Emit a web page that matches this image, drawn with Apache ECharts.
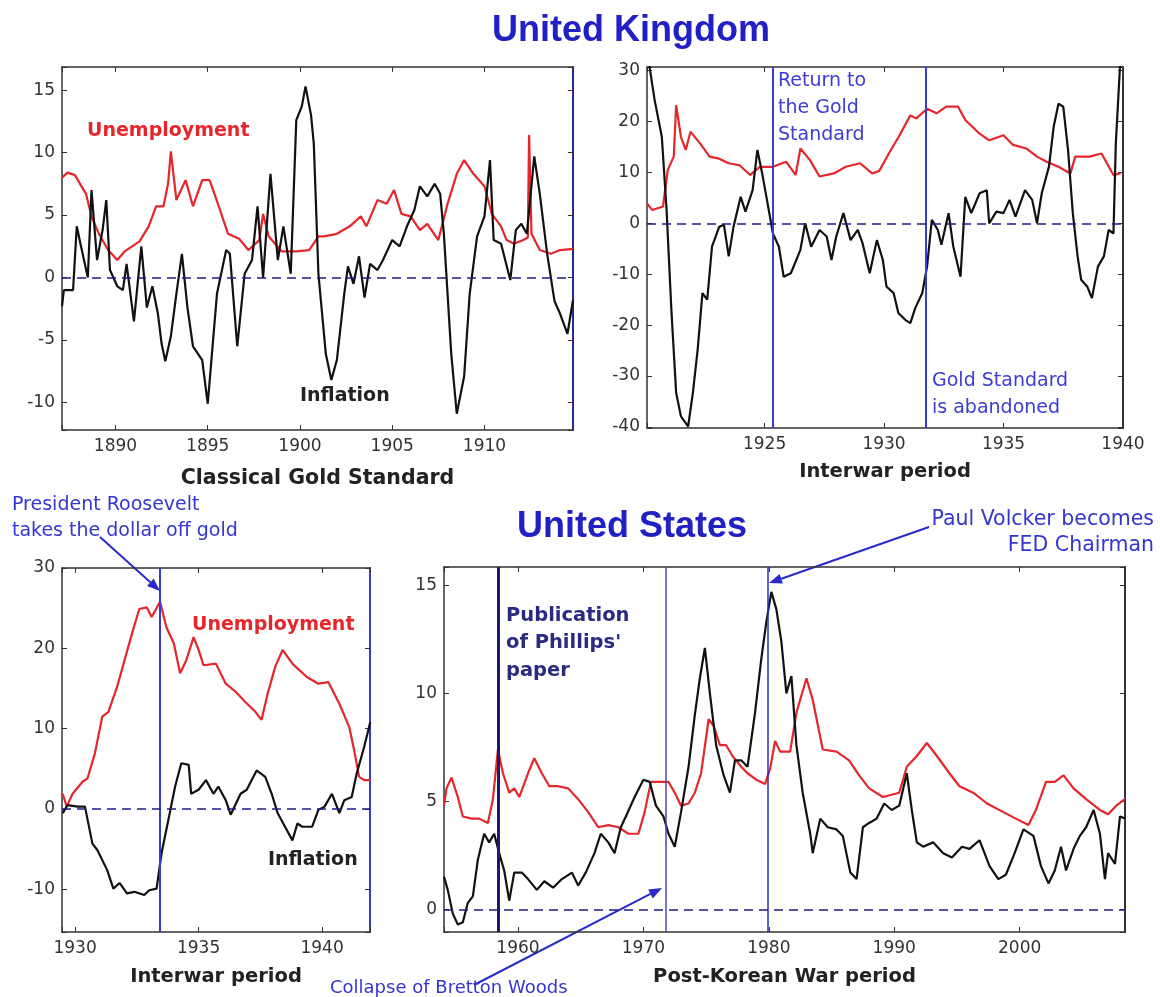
<!DOCTYPE html>
<html>
<head>
<meta charset="utf-8">
<script src="https://cdn.jsdelivr.net/npm/echarts@6/dist/echarts.min.js"></script>
<style>
html, body { margin: 0; padding: 0; background: #fff; }
#chart { width: 1160px; height: 997px; }
</style>
</head>
<body>
<div id="chart"></div>
<script>
// UK, classical gold standard
const ukGoldUnempYears = [1887.1, 1887.4, 1887.8, 1888.4, 1888.7, 1889.1, 1889.6, 1890.1, 1890.5, 1891.3, 1891.8, 1892.2, 1892.6, 1892.85, 1893.0, 1893.3, 1893.8, 1894.2, 1894.7, 1895.1, 1895.6, 1896.1, 1896.7, 1897.2, 1897.8, 1898.0, 1898.3, 1899.0, 1899.8, 1900.5, 1901.0, 1901.3, 1902.0, 1902.7, 1903.3, 1903.6, 1904.2, 1904.7, 1905.1, 1905.5, 1906.0, 1906.5, 1906.9, 1907.5, 1908.0, 1908.5, 1908.9, 1909.4, 1910.0, 1910.4, 1910.9, 1911.2, 1911.6, 1912.1, 1912.35, 1912.42, 1912.55, 1913.0, 1913.6, 1914.1, 1914.8];
const ukGoldUnemp = [8.0, 8.4, 8.2, 6.7, 4.9, 3.5, 2.2, 1.4, 2.1, 2.9, 4.1, 5.7, 5.7, 7.5, 10.1, 6.2, 7.8, 5.7, 7.8, 7.8, 5.7, 3.5, 3.1, 2.2, 3.0, 5.1, 3.3, 2.1, 2.1, 2.2, 3.3, 3.3, 3.5, 4.1, 4.9, 4.1, 6.2, 5.9, 7.0, 5.1, 4.9, 3.8, 4.3, 3.0, 5.9, 8.3, 9.4, 8.3, 7.3, 5.1, 4.1, 3.0, 2.7, 3.0, 3.2, 11.4, 3.5, 2.2, 1.9, 2.2, 2.3];
const ukGoldInflYears = [1887.1, 1887.2, 1887.7, 1887.9, 1888.1, 1888.5, 1888.7, 1889.0, 1889.3, 1889.5, 1889.7, 1890.1, 1890.4, 1890.6, 1891.0, 1891.4, 1891.7, 1892.0, 1892.3, 1892.5, 1892.7, 1893.0, 1893.3, 1893.6, 1893.9, 1894.2, 1894.7, 1895.0, 1895.2, 1895.5, 1896.0, 1896.2, 1896.6, 1897.0, 1897.4, 1897.7, 1898.0, 1898.4, 1898.8, 1899.1, 1899.5, 1899.8, 1900.1, 1900.3, 1900.6, 1900.75, 1901.0, 1901.4, 1901.7, 1902.0, 1902.4, 1902.6, 1902.9, 1903.2, 1903.5, 1903.8, 1904.2, 1904.5, 1905.0, 1905.4, 1905.8, 1906.2, 1906.5, 1906.9, 1907.3, 1907.6, 1907.8, 1908.2, 1908.5, 1908.9, 1909.2, 1909.6, 1910.0, 1910.3, 1910.5, 1910.9, 1911.4, 1911.7, 1912.0, 1912.3, 1912.7, 1913.0, 1913.4, 1913.8, 1914.1, 1914.5, 1914.8];
const ukGoldInfl = [-2.3, -1.0, -1.0, 4.1, 2.7, 0, 7.0, 1.4, 3.8, 6.2, 0.6, -0.7, -1.0, 1.1, -3.5, 2.5, -2.4, -0.7, -2.9, -5.3, -6.7, -4.7, -1.3, 1.9, -2.4, -5.5, -6.6, -10.1, -6.6, -1.3, 2.2, 1.9, -5.5, 0.3, 1.4, 5.7, 0, 8.3, 1.4, 4.1, 0.3, 12.6, 13.7, 15.3, 13.0, 10.7, 0.3, -6.1, -8.2, -6.6, -1.3, 0.9, -0.5, 1.7, -1.6, 1.1, 0.6, 1.4, 3.0, 2.5, 4.1, 5.4, 7.3, 6.5, 7.5, 6.7, 3.5, -6.1, -10.9, -7.9, -1.3, 3.3, 4.9, 9.4, 3.0, 2.7, -0.2, 3.8, 4.3, 3.5, 9.7, 6.7, 1.9, -1.9, -2.9, -4.5, -1.8];

// UK, interwar period
const ukWarUnempYears = [1920.08, 1920.3, 1920.75, 1920.95, 1921.2, 1921.3, 1921.5, 1921.7, 1921.9, 1922.3, 1922.7, 1923.1, 1923.5, 1923.95, 1924.4, 1924.8, 1925.35, 1925.9, 1926.3, 1926.5, 1926.9, 1927.3, 1927.9, 1928.4, 1929.0, 1929.5, 1929.8, 1930.2, 1930.65, 1931.1, 1931.35, 1931.8, 1932.2, 1932.6, 1933.1, 1933.4, 1934.0, 1934.4, 1935.0, 1935.4, 1935.95, 1936.4, 1936.8, 1937.3, 1937.8, 1938.0, 1938.6, 1939.1, 1939.6, 1939.9];
const ukWarUnemp = [3.9, 2.6, 3.3, 10.5, 13.1, 23.2, 17.0, 14.4, 18.0, 15.7, 13.1, 12.7, 11.8, 11.4, 9.5, 11.1, 11.1, 12.1, 9.5, 14.7, 12.4, 9.2, 9.8, 11.1, 11.8, 9.8, 10.3, 13.7, 17.3, 21.2, 20.6, 22.5, 21.6, 22.9, 22.9, 20.3, 17.6, 16.3, 17.3, 15.4, 14.7, 13.1, 12.1, 11.1, 9.8, 13.1, 13.1, 13.7, 9.5, 9.8];
const ukWarInflYears = [1920.08, 1920.4, 1920.7, 1920.9, 1921.1, 1921.3, 1921.5, 1921.8, 1922.0, 1922.2, 1922.4, 1922.6, 1922.8, 1923.1, 1923.3, 1923.5, 1923.7, 1924.0, 1924.2, 1924.5, 1924.7, 1924.9, 1925.1, 1925.35, 1925.6, 1925.8, 1926.1, 1926.5, 1926.7, 1926.95, 1927.3, 1927.6, 1927.8, 1928.0, 1928.3, 1928.6, 1928.9, 1929.1, 1929.4, 1929.7, 1929.95, 1930.1, 1930.4, 1930.6, 1930.9, 1931.1, 1931.3, 1931.6, 1931.8, 1932.0, 1932.25, 1932.4, 1932.7, 1932.9, 1933.2, 1933.4, 1933.65, 1934.0, 1934.3, 1934.4, 1934.7, 1935.0, 1935.25, 1935.5, 1935.9, 1936.2, 1936.4, 1936.6, 1936.9, 1937.1, 1937.3, 1937.5, 1937.7, 1937.9, 1938.1, 1938.25, 1938.5, 1938.7, 1938.95, 1939.2, 1939.4, 1939.6, 1939.7, 1939.9];
const ukWarInfl = [34, 24.2, 17.0, 2.6, -17.0, -33.3, -37.9, -39.9, -33.3, -24.8, -13.7, -15.0, -4.6, -0.7, -0.3, -6.5, -0.7, 5.2, 2.3, 6.5, 14.4, 9.8, 4.6, -2.0, -4.6, -10.5, -9.8, -5.2, 0, -4.6, -1.3, -2.6, -7.2, -2.6, 2.0, -3.3, -1.3, -3.9, -9.8, -3.3, -7.2, -12.4, -13.7, -17.6, -19.0, -19.6, -16.7, -13.7, -8.5, 0.7, -1.3, -4.2, 2.0, -4.6, -10.5, 5.2, 2.0, 5.9, 6.5, 0, 2.3, 2.0, 4.6, 1.3, 6.5, 4.6, 0, 5.9, 11.1, 19.0, 23.5, 22.9, 14.4, 2.0, -6.5, -11.1, -12.4, -14.7, -8.5, -6.5, -1.3, -2.0, 15.7, 33];

// US, interwar period
const usWarUnempYears = [1929.5, 1929.66, 1929.9, 1930.3, 1930.5, 1930.8, 1931.1, 1931.35, 1931.7, 1932.0, 1932.3, 1932.6, 1932.9, 1933.1, 1933.44, 1933.7, 1934.0, 1934.25, 1934.5, 1934.8, 1935.0, 1935.2, 1935.7, 1936.1, 1936.5, 1936.9, 1937.3, 1937.55, 1937.8, 1938.1, 1938.4, 1938.8, 1939.0, 1939.4, 1939.85, 1940.25, 1940.7, 1941.1, 1941.3, 1941.5, 1941.7, 1941.95];
const usWarUnemp = [1.9, 0.3, 1.9, 3.4, 3.8, 6.9, 11.5, 12.1, 15.2, 18.5, 21.8, 24.9, 25.1, 23.9, 25.8, 22.6, 20.6, 16.9, 18.5, 21.4, 19.8, 17.9, 18.1, 15.6, 14.6, 13.3, 12.1, 11.1, 14.4, 17.7, 19.8, 18.1, 17.5, 16.4, 15.6, 15.8, 13.1, 10.2, 7.3, 4.0, 3.6, 3.6];
const usWarInflYears = [1929.5, 1929.7, 1930.1, 1930.4, 1930.7, 1930.9, 1931.3, 1931.55, 1931.8, 1932.1, 1932.4, 1932.8, 1933.0, 1933.3, 1933.5, 1933.8, 1934.05, 1934.3, 1934.6, 1934.7, 1935.0, 1935.3, 1935.6, 1935.8, 1936.1, 1936.3, 1936.7, 1936.95, 1937.35, 1937.7, 1937.96, 1938.2, 1938.5, 1938.8, 1939.0, 1939.2, 1939.6, 1939.85, 1940.1, 1940.4, 1940.7, 1940.9, 1941.2, 1941.4, 1941.7, 1941.95];
const usWarInfl = [-0.5, 0.5, 0.3, 0.3, -4.3, -5.1, -7.6, -9.9, -9.2, -10.5, -10.3, -10.7, -10.1, -9.9, -5.5, -1.0, 2.8, 5.7, 5.5, 1.9, 2.4, 3.6, 1.9, 2.8, 1.1, -0.7, 1.9, 2.4, 4.8, 4.0, 1.9, -0.5, -2.2, -3.9, -1.8, -2.2, -2.2, -0.1, 0.3, 1.9, -0.5, 1.1, 1.5, 4.4, 7.7, 10.8];

// US, post-Korean war period
const usPostUnempYears = [1954.1, 1954.3, 1954.7, 1955.2, 1955.6, 1956.3, 1956.9, 1957.6, 1958.0, 1958.4, 1958.8, 1959.3, 1959.7, 1960.1, 1960.8, 1961.3, 1961.9, 1962.5, 1963.2, 1964.0, 1964.8, 1965.6, 1966.4, 1967.2, 1968.0, 1968.8, 1969.6, 1970.1, 1970.6, 1971.4, 1972.0, 1972.5, 1973.0, 1973.6, 1974.1, 1974.6, 1975.2, 1975.6, 1976.1, 1976.6, 1977.1, 1977.8, 1978.3, 1979.0, 1979.7, 1980.1, 1980.5, 1980.9, 1981.7, 1982.2, 1983.0, 1983.5, 1984.3, 1985.4, 1986.4, 1987.2, 1988.0, 1989.1, 1990.4, 1991.0, 1991.8, 1992.6, 1993.4, 1994.4, 1995.2, 1996.3, 1997.4, 1998.7, 1999.7, 2000.7, 2001.3, 2002.1, 2002.8, 2003.5, 2004.3, 2005.3, 2006.4, 2007.05, 2007.7, 2008.4];
const usPostUnemp = [4.8, 5.6, 6.1, 5.2, 4.3, 4.2, 4.2, 4.0, 5.1, 7.4, 6.3, 5.4, 5.6, 5.2, 6.3, 7.0, 6.3, 5.7, 5.7, 5.6, 5.1, 4.5, 3.8, 3.9, 3.8, 3.5, 3.5, 4.5, 5.9, 5.9, 5.9, 5.4, 4.8, 4.9, 5.4, 6.3, 8.8, 8.5, 7.6, 7.6, 7.1, 6.6, 6.3, 6.0, 5.8, 6.5, 7.8, 7.3, 7.3, 9.1, 10.7, 9.7, 7.4, 7.3, 6.9, 6.2, 5.6, 5.2, 5.4, 6.6, 7.1, 7.7, 7.1, 6.3, 5.7, 5.4, 4.9, 4.5, 4.2, 3.9, 4.6, 5.9, 5.9, 6.2, 5.6, 5.1, 4.6, 4.4, 4.8, 5.1];
const usPostInflYears = [1954.1, 1954.4, 1954.8, 1955.2, 1955.6, 1956.0, 1956.4, 1956.8, 1957.3, 1957.7, 1958.1, 1958.5, 1958.9, 1959.3, 1959.7, 1960.3, 1960.8, 1961.5, 1962.1, 1962.8, 1963.5, 1964.3, 1964.8, 1965.4, 1966.1, 1966.6, 1967.2, 1967.7, 1968.2, 1968.6, 1969.3, 1970.0, 1970.5, 1971.0, 1971.6, 1972.0, 1972.5, 1973.0, 1973.6, 1974.1, 1974.5, 1974.9, 1975.3, 1975.8, 1976.4, 1976.9, 1977.3, 1977.8, 1978.3, 1978.9, 1979.4, 1979.8, 1980.2, 1980.6, 1981.0, 1981.4, 1981.8, 1982.2, 1982.7, 1983.3, 1983.5, 1984.1, 1984.7, 1985.4, 1985.9, 1986.5, 1987.0, 1987.5, 1988.0, 1988.6, 1989.2, 1989.8, 1990.4, 1991.0, 1991.4, 1991.8, 1992.3, 1993.1, 1993.9, 1994.6, 1995.4, 1996.0, 1996.8, 1997.6, 1998.3, 1998.9, 1999.6, 2000.3, 2001.1, 2001.7, 2002.3, 2002.8, 2003.3, 2003.7, 2004.3, 2004.8, 2005.3, 2005.9, 2006.4, 2006.8, 2007.05, 2007.6, 2008.0, 2008.4];
const usPostInfl = [1.5, 0.9, -0.2, -0.7, -0.6, 0.3, 0.6, 2.3, 3.5, 3.1, 3.5, 2.6, 1.8, 0.4, 1.7, 1.7, 1.4, 0.9, 1.3, 1.0, 1.4, 1.7, 1.1, 1.7, 2.6, 3.5, 3.1, 2.6, 3.8, 4.3, 5.2, 6.0, 5.9, 4.8, 4.3, 3.5, 2.9, 4.5, 6.6, 9.0, 10.7, 12.1, 10.0, 7.6, 6.2, 5.4, 6.9, 6.9, 6.6, 9.1, 11.6, 13.3, 14.7, 13.9, 12.4, 10.0, 10.8, 7.6, 5.4, 3.5, 2.6, 4.2, 3.8, 3.7, 3.4, 1.7, 1.4, 3.8, 4.0, 4.2, 4.9, 4.6, 4.8, 6.3, 4.6, 3.1, 2.9, 3.1, 2.6, 2.4, 2.9, 2.8, 3.2, 2.0, 1.4, 1.6, 2.6, 3.7, 3.4, 2.0, 1.2, 1.8, 2.9, 1.8, 2.8, 3.4, 3.8, 4.6, 3.5, 1.4, 2.6, 2.1, 4.3, 4.2];

// event lines (years)
const ukGoldReturn = 1925.35;
const ukGoldAbandon = 1931.75;
const usRoosevelt = 1933.44;
const usPhillips = 1958.4;
const usBretton = 1971.8;
const usVolcker = 1979.9;

const font = '"Liberation Sans", Arial, sans-serif';
const wide = '"DejaVu Sans", Verdana, sans-serif';
const red = '#e5262b';
const blue = '#2a2ad2';
const navy = '#1c1c86';

const zip = (xs, ys) => xs.map((x, i) => [x, ys[i]]);

const panels = [
    { grid: { left: 62, top: 67, width: 511, height: 363 }, x: [1887.1, 1914.8], y: [-12.2, 16.85], xStep: 5, yStep: 5, xSplit: 5, ySplit: 6, name: 'Classical Gold Standard', nameSize: 20.5, nameGap: 38, rightColor: '#28289a' },
    { grid: { left: 647, top: 67, width: 476, height: 361 }, x: [1920.08, 1940], y: [-40.2, 30.7], xStep: 5, yStep: 10, xSplit: 4, ySplit: 7, name: 'Interwar period', nameSize: 19.5, nameGap: 34, rightColor: '#333' },
    { grid: { left: 62, top: 568, width: 308, height: 364 }, x: [1929.47, 1941.94], y: [-15.3, 30], xStep: 5, yStep: 10, xSplit: 3, ySplit: 5, name: 'Interwar period', nameSize: 19.5, nameGap: 35, rightColor: '#3a3ad0' },
    { grid: { left: 444, top: 567, width: 681, height: 365 }, x: [1954.1, 2008.4], y: [-1.05, 15.85], xStep: 10, yStep: 5, xSplit: 5, ySplit: 3, name: 'Post-Korean War period', nameSize: 19.5, nameGap: 35, rightColor: '#333' }
];

const onStep = (v, step) => Math.abs(v / step - Math.round(v / step)) < 1e-6;

const xAxis = [];
const yAxis = [];
panels.forEach((p, i) => {
    const tick = { show: true, inside: true, length: 5, lineStyle: { color: '#333', width: 1 } };
    const common = { type: 'value', gridIndex: i, splitLine: { show: false } };
    xAxis.push({
        ...common, min: p.x[0], max: p.x[1], splitNumber: p.xSplit, minInterval: p.xStep, maxInterval: p.xStep,
        position: 'bottom',
        axisLine: { onZero: false, lineStyle: { color: '#333', width: 1.5 } },
        axisTick: tick,
        axisLabel: { color: '#333', fontSize: 17, fontFamily: wide, margin: 8, formatter: v => onStep(v, p.xStep) ? String(Math.round(v)) : '' },
        name: p.name, nameLocation: 'middle', nameGap: p.nameGap,
        nameTextStyle: { color: '#222', fontSize: p.nameSize, fontWeight: 'bold', fontFamily: wide }
    });
    yAxis.push({
        ...common, min: p.y[0], max: p.y[1], splitNumber: p.ySplit, minInterval: p.yStep, maxInterval: p.yStep,
        position: 'left',
        axisLine: { show: true, onZero: false, lineStyle: { color: '#333', width: 1.5 } },
        axisTick: tick,
        axisLabel: { color: '#333', fontSize: 17, fontFamily: wide, margin: 7, formatter: v => onStep(v, p.yStep) ? String(Math.round(v)) : '' }
    });
});
panels.forEach((p, i) => {
    const tick = { show: true, inside: true, length: 5, lineStyle: { color: '#333', width: 1 } };
    xAxis.push({
        type: 'value', gridIndex: i, min: p.x[0], max: p.x[1], splitNumber: p.xSplit, minInterval: p.xStep, maxInterval: p.xStep,
        position: 'top', splitLine: { show: false },
        axisLine: { onZero: false, lineStyle: { color: '#333', width: 1.5 } },
        axisTick: tick, axisLabel: { show: false }
    });
    yAxis.push({
        type: 'value', gridIndex: i, min: p.y[0], max: p.y[1], splitNumber: p.ySplit, minInterval: p.yStep, maxInterval: p.yStep,
        position: 'right', splitLine: { show: false },
        axisLine: { show: true, onZero: false, lineStyle: { color: p.rightColor, width: 2 } },
        axisTick: tick, axisLabel: { show: false }
    });
});

const zeroLine = {
    silent: true, symbol: 'none', label: { show: false },
    lineStyle: { color: navy, type: [9, 6], width: 1.5 },
    data: [{ yAxis: 0 }]
};
const vLines = items => ({
    silent: true, symbol: 'none', label: { show: false },
    data: items.map(([x, color, width]) => ({ xAxis: x, lineStyle: { color, width, type: 'solid' } }))
});

const lineSeries = (i, data, color, extra) => ({
    type: 'line', xAxisIndex: i, yAxisIndex: i, data, showSymbol: false, symbol: 'none',
    lineStyle: { color, width: 2.2 }, itemStyle: { color }, animation: false, clip: true, ...extra
});

const series = [
    lineSeries(0, zip(ukGoldUnempYears, ukGoldUnemp), red),
    lineSeries(0, zip(ukGoldInflYears, ukGoldInfl), '#111', { markLine: zeroLine }),
    lineSeries(1, zip(ukWarUnempYears, ukWarUnemp), red, { markLine: vLines([[ukGoldReturn, '#3a3ad4', 2], [ukGoldAbandon, '#3a3ad4', 2]]) }),
    lineSeries(1, zip(ukWarInflYears, ukWarInfl), '#111', { markLine: zeroLine }),
    lineSeries(2, zip(usWarUnempYears, usWarUnemp), red, { markLine: vLines([[usRoosevelt, '#3a3ad0', 2]]) }),
    lineSeries(2, zip(usWarInflYears, usWarInfl), '#111', { markLine: zeroLine }),
    lineSeries(3, zip(usPostUnempYears, usPostUnemp), red, { markLine: vLines([[usPhillips, '#1a1a6e', 3], [usBretton, '#4848b0', 1.5], [usVolcker, '#2b2bcc', 1.5]]) }),
    lineSeries(3, zip(usPostInflYears, usPostInfl), '#111', { markLine: zeroLine })
];

function text(str, x, y, opts) {
    return {
        type: 'text', x, y, silent: true, z: 100,
        style: Object.assign({ text: str, fill: blue, fontSize: 16, fontFamily: wide, align: 'left', verticalAlign: 'middle', lineHeight: 24 }, opts)
    };
}

function arrow(x1, y1, x2, y2, color) {
    const ang = Math.atan2(y2 - y1, x2 - x1);
    const len = 13, half = 5;
    const bx = x2 - len * Math.cos(ang), by = y2 - len * Math.sin(ang);
    const px = -Math.sin(ang) * half, py = Math.cos(ang) * half;
    return {
        type: 'group', silent: true, z: 100,
        children: [
            { type: 'line', shape: { x1, y1, x2: bx, y2: by }, style: { stroke: color, lineWidth: 2 } },
            { type: 'polygon', shape: { points: [[x2, y2], [bx + px, by + py], [bx - px, by - py]] }, style: { fill: color } }
        ]
    };
}

const graphic = [
    text('United Kingdom', 631, 31, { fill: '#2020c4', fontSize: 36, fontWeight: 'bold', fontFamily: font, align: 'center' }),
    text('United States', 632, 527, { fill: '#2020c4', fontSize: 36, fontWeight: 'bold', fontFamily: font, align: 'center' }),
    text('Unemployment', 87, 131, { fill: red, fontSize: 19, fontWeight: 'bold' }),
    text('Inflation', 300, 396, { fill: '#222', fontSize: 19, fontWeight: 'bold' }),
    text('Return to\nthe Gold\nStandard', 778, 108, { fill: '#3c3cd2', fontSize: 19, lineHeight: 27 }),
    text('Gold Standard\nis abandoned', 932, 395, { fill: '#3c3cd2', fontSize: 19, lineHeight: 27 }),
    text('Unemployment', 192, 625, { fill: red, fontSize: 19, fontWeight: 'bold' }),
    text('Inflation', 268, 860, { fill: '#222', fontSize: 19, fontWeight: 'bold' }),
    text('President Roosevelt\ntakes the dollar off gold', 12, 518, { fill: '#3535d0', fontSize: 19, lineHeight: 26 }),
    text("Publication\nof Phillips'\npaper", 506, 643, { fill: '#2a2a80', fontSize: 19.5, fontWeight: 'bold', lineHeight: 27.5 }),
    text('Paul Volcker becomes\nFED Chairman', 1154, 533, { fill: '#3535d0', fontSize: 20.5, align: 'right', lineHeight: 26 }),
    text('Collapse of Bretton Woods', 330, 988, { fill: '#3535d0', fontSize: 18 }),
    arrow(100, 537, 160, 591, '#2a2ac8'),
    arrow(929, 527, 769, 583, '#2a2ac8'),
    arrow(474, 985, 662, 888, '#2a2ac8')
];

const chart = echarts.init(document.getElementById('chart'));
chart.setOption({
    backgroundColor: '#fff',
    animation: false,
    grid: panels.map(p => ({ ...p.grid, containLabel: false })),
    xAxis,
    yAxis,
    series,
    graphic
});
</script>
</body>
</html>
